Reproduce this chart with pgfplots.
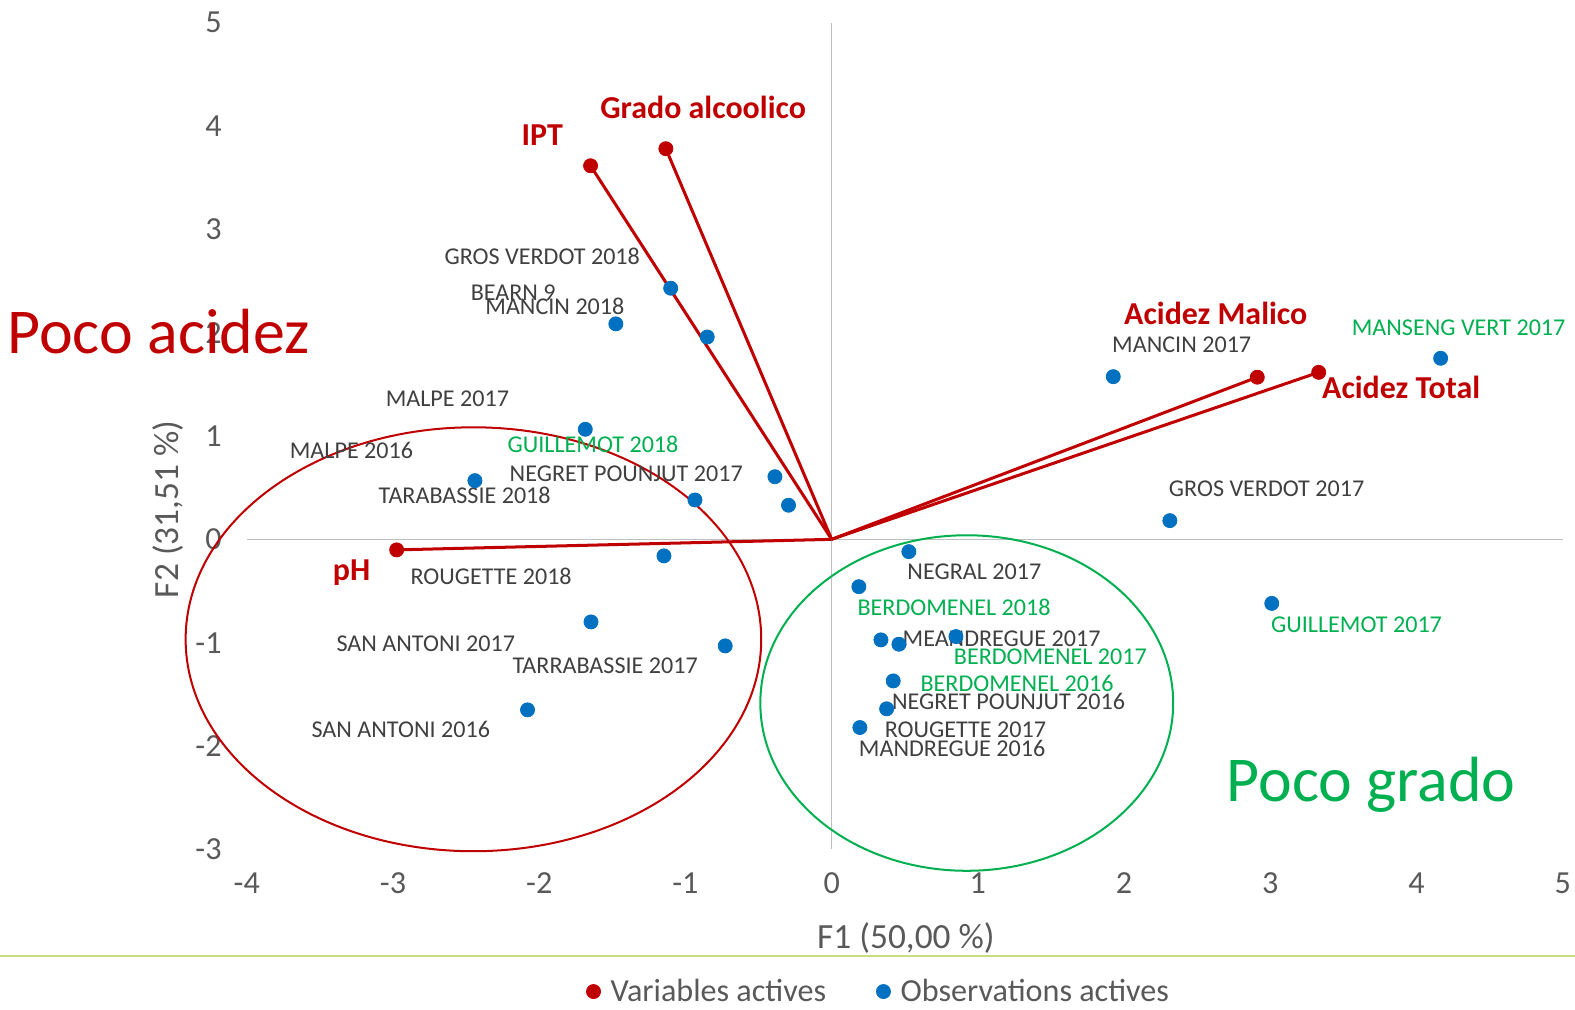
\documentclass[border=0pt]{standalone}
\usepackage{pgfplots}
\pgfplotsset{compat=1.18}
\usepackage{fontspec}
\setmainfont{Carlito}
\definecolor{cblue}{RGB}{0,112,192}
\definecolor{cred}{RGB}{192,0,0}
\definecolor{cgreen}{RGB}{0,176,80}
\definecolor{ctext}{RGB}{64,64,64}
\definecolor{ctick}{RGB}{89,89,89}
\definecolor{cgrid}{RGB}{191,191,191}
\definecolor{csep}{RGB}{196,222,128}
\tikzset{
  lab/.style={font=\fontsize{12}{14}\selectfont, text=ctext, inner sep=0pt},
  glab/.style={font=\fontsize{12}{14}\selectfont, text=cgreen, inner sep=0pt},
  rlab/.style={font=\fontsize{15.9}{18}\selectfont\bfseries, text=cred, inner sep=0pt},
}
\begin{document}
\begin{tikzpicture}
\begin{axis}[
  scale only axis, width=655pt, height=411.5pt,
  xmin=-4, xmax=5, ymin=-3, ymax=5,
  xtick={-4,-3,...,5}, ytick={-3,-2,...,5},
  axis line style={draw=none}, tick style={draw=none}, major tick length=0pt,
  clip=false,
  /pgf/number format/assume math mode=true,
  ticklabel style={font=\fontsize{16}{19}\selectfont, text=ctick},
  xticklabel style={yshift=-8pt},
  yticklabel style={xshift=-9pt},
  legend style={at={(0.481,-0.172)}, anchor=center, draw=none, fill=none,
    legend columns=2, font=\fontsize{16}{18}\selectfont, text=ctick,
    /tikz/every odd column/.append style={column sep=3pt},
    /tikz/every even column/.append style={column sep=23pt}},
]
% bounding frame and zero lines
\coordinate (bbl) at (axis cs:-5.688,-4.545);
\coordinate (btr) at (axis cs:5.084,5.219);
\draw[csep, line width=1pt] (axis cs:-5.688,-4.033) -- (axis cs:5.084,-4.033);
\draw[cgrid, line width=0.75pt] (axis cs:-4,0) -- (axis cs:5,0);
\draw[cgrid, line width=0.75pt] (axis cs:0,-3) -- (axis cs:0,5);
% ellipses
\draw[cred, line width=1pt] (axis cs:-2.45,-0.967) ellipse [x radius=143.25pt, y radius=105.5pt];
\draw[cgreen, line width=1pt] (axis cs:0.924,-1.584) ellipse [x radius=102.75pt, y radius=83.5pt];
% variable vectors
\addplot[cred, line width=1.5pt, forget plot] coordinates {(0,0) (-1.649,3.615)};
\addplot[cred, line width=1.5pt, forget plot] coordinates {(0,0) (-1.134,3.780)};
\addplot[cred, line width=1.5pt, forget plot] coordinates {(0,0) (2.911,1.569)};
\addplot[cred, line width=1.5pt, forget plot] coordinates {(0,0) (3.331,1.616)};
\addplot[cred, line width=1.5pt, forget plot] coordinates {(0,0) (-2.975,-0.102)};
\addplot[only marks, mark=*, mark size=3.5pt, color=cred] coordinates {
  (-1.649,3.615) (-1.134,3.780) (2.911,1.569) (3.331,1.616) (-2.975,-0.102)};
\addlegendentry{Variables actives}
\addplot[only marks, mark=*, mark size=3.5pt, color=cblue] coordinates {
  (-1.101,2.430) (-1.476,2.085) (-0.851,1.958) (-1.685,1.065) (-2.440,0.568)
  (-0.935,0.381) (-0.388,0.606) (-0.295,0.330) (-1.147,-0.160) (-1.646,-0.799)
  (-0.728,-1.031) (-2.080,-1.650) (0.528,-0.119) (0.186,-0.458) (0.337,-0.973)
  (0.460,-1.015) (0.850,-0.941) (0.421,-1.370) (0.376,-1.640) (0.193,-1.821)
  (1.926,1.574) (4.165,1.752) (2.313,0.181) (3.010,-0.620)};
\addlegendentry{Observations actives}
% observation labels
\node[lab] at (axis cs:-1.979,2.736) {GROS VERDOT 2018};
\node[lab] at (axis cs:-2.178,2.387) {BEARN 9};
\node[lab] at (axis cs:-1.893,2.258) {MANCIN 2018};
\node[lab] at (axis cs:-2.628,1.365) {MALPE 2017};
\node[lab] at (axis cs:-3.284,0.858) {MALPE 2016};
\node[glab] at (axis cs:-1.632,0.920) {GUILLEMOT 2018};
\node[lab] at (axis cs:-1.405,0.639) {NEGRET POUNJUT 2017};
\node[lab] at (axis cs:-2.510,0.430) {TARABASSIE 2018};
\node[lab] at (axis cs:-2.329,-0.360) {ROUGETTE 2018};
\node[lab] at (axis cs:-2.776,-1.006) {SAN ANTONI 2017};
\node[lab] at (axis cs:-1.549,-1.224) {TARRABASSIE 2017};
\node[lab] at (axis cs:-2.947,-1.844) {SAN ANTONI 2016};
\node[lab] at (axis cs:0.976,-0.312) {NEGRAL 2017};
\node[glab] at (axis cs:0.837,-0.657) {BERDOMENEL 2018};
\node[lab] at (axis cs:1.162,-0.963) {MEANDREGUE 2017};
\node[glab] at (axis cs:1.496,-1.134) {BERDOMENEL 2017};
\node[glab] at (axis cs:1.268,-1.399) {BERDOMENEL 2016};
\node[lab] at (axis cs:1.210,-1.570) {NEGRET POUNJUT 2016};
\node[lab] at (axis cs:0.915,-1.838) {ROUGETTE 2017};
\node[lab] at (axis cs:0.824,-2.021) {MANDREGUE 2016};
\node[lab] at (axis cs:2.394,1.881) {MANCIN 2017};
\node[glab] at (axis cs:4.288,2.052) {MANSENG VERT 2017};
\node[lab] at (axis cs:2.975,0.488) {GROS VERDOT 2017};
\node[glab] at (axis cs:3.590,-0.830) {GUILLEMOT 2017};
% variable labels
\node[rlab] at (axis cs:-1.979,3.916) {IPT};
\node[rlab] at (axis cs:-0.879,4.179) {Grado alcoolico};
\node[rlab] at (axis cs:2.627,2.188) {Acidez Malico};
\node[rlab] at (axis cs:3.895,1.468) {Acidez Total};
\node[rlab] at (axis cs:-3.284,-0.321) {pH};
% annotations
\node[font=\fontsize{31.8}{36}\selectfont, text=cred, inner sep=0pt] at (axis cs:-4.603,2.012) {Poco acidez};
\node[font=\fontsize{31.8}{36}\selectfont, text=cgreen, inner sep=0pt] at (axis cs:3.689,-2.371) {Poco grado};
% axis titles
\node[font=\fontsize{17.6}{20}\selectfont, text=ctick, inner sep=0pt] at (axis cs:0.508,-3.858) {F1 (50,00 \%)};
\node[font=\fontsize{17.6}{20}\selectfont, text=ctick, inner sep=0pt, rotate=90] at (axis cs:-4.541,0.29) {F2 (31,51 \%)};
\end{axis}
\pgfresetboundingbox
\path (bbl) rectangle (btr);
\end{tikzpicture}
\end{document}
